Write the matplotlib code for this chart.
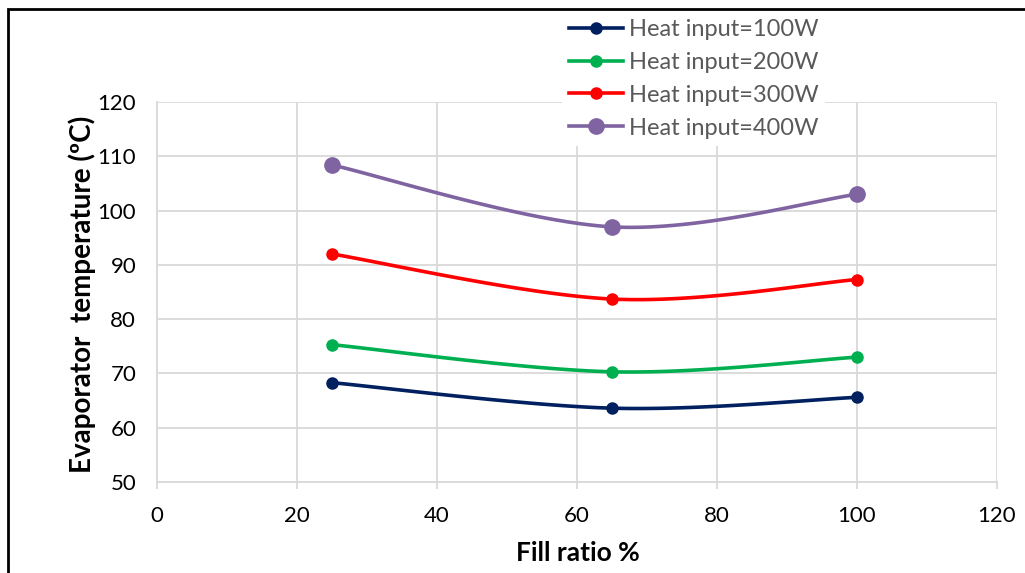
import numpy as np
import matplotlib.pyplot as plt
from matplotlib.patches import Rectangle

# --- data ---
fill_ratio = [25, 65, 100]
temp_100w = [68.3, 63.6, 65.6]
temp_200w = [75.3, 70.3, 73.0]
temp_300w = [92.0, 83.7, 87.3]
temp_400w = [108.4, 97.0, 103.0]

labels = ["Heat input=100W", "Heat input=200W", "Heat input=300W", "Heat input=400W"]
colors = ["#002060", "#00B050", "#FF0000", "#8064A2"]
msizes = [8, 8, 8, 11]

x_ticks = [0, 20, 40, 60, 80, 100, 120]
y_ticks = [50, 60, 70, 80, 90, 100, 110, 120]


def smooth(xs, ys, n=60):
    # Excel style smoothed line: cubic Bezier with Catmull-Rom control points
    p = np.column_stack([xs, ys]).astype(float)
    p = np.vstack([p[0], p, p[-1]])
    out = []
    for i in range(1, len(p) - 2):
        p0, p1, p2, p3 = p[i - 1], p[i], p[i + 1], p[i + 2]
        c1 = p1 + (p2 - p0) / 6
        c2 = p2 - (p3 - p1) / 6
        t = np.linspace(0, 1, n)[:, None]
        seg = ((1 - t) ** 3 * p1 + 3 * (1 - t) ** 2 * t * c1
               + 3 * (1 - t) * t ** 2 * c2 + t ** 3 * p2)
        out.append(seg if i == 1 else seg[1:])
    out = np.vstack(out)
    return out[:, 0], out[:, 1]


plt.rcParams['font.family'] = ['Lato', 'DejaVu Sans']

W, H = 1025, 573
fig = plt.figure(figsize=(W / 100, H / 100), dpi=100)
ax = fig.add_axes([157 / W, 1 - 482 / H, 840 / W, 380 / H])

series = [temp_100w, temp_200w, temp_300w, temp_400w]
for ys, lab, col, ms in zip(series, labels, colors, msizes):
    sx, sy = smooth(fill_ratio, ys)
    ax.plot(sx, sy, color=col, lw=2.6, zorder=3, solid_capstyle='round')
    ax.plot(fill_ratio, ys, 'o', color=col, ms=ms, zorder=4)
    ax.plot([], [], '-o', color=col, lw=2.6, ms=ms, label=lab)

ax.set_xlim(0, 120)
ax.set_ylim(50, 120)
ax.set_xticks(x_ticks)
ax.set_yticks(y_ticks)
ax.grid(True, color='#d9d9d9', lw=1.3)
ax.set_axisbelow(True)
for side in ['top', 'right']:
    ax.spines[side].set_visible(False)
for side in ['left', 'bottom']:
    ax.spines[side].set_color('#d9d9d9')
    ax.spines[side].set_linewidth(1.3)
ax.tick_params(axis='x', length=5, width=1.3, color='#d9d9d9', labelsize=16, pad=12)
ax.tick_params(axis='y', length=0, labelsize=16, pad=15)

fig.text(578 / W, 1 - 553 / H, "Fill ratio %", fontsize=19, fontweight='bold',
         ha='center', va='center')
fig.text(82 / W, 1 - 294 / H, "Evaporator  temperature (ºC)", fontsize=20,
         fontweight='bold', rotation=90, ha='center', va='center')

leg = ax.legend(loc='upper left', bbox_to_anchor=(562 / W, 1 - 12 / H),
                bbox_transform=fig.transFigure, fontsize=17, frameon=True,
                facecolor='white', edgecolor='none', framealpha=1, fancybox=False,
                handlelength=2.3, handletextpad=0.22, labelspacing=0.5,
                borderpad=0.3, borderaxespad=0)
for t in leg.get_texts():
    t.set_color('#595959')

# outer chart border
fig.patches.append(Rectangle((8 / W, -0.2), 1.2, 1.2 - 9 / H,
                             transform=fig.transFigure, fill=False,
                             edgecolor='black', lw=2, zorder=10))

fig.savefig("out.png", dpi=100)
